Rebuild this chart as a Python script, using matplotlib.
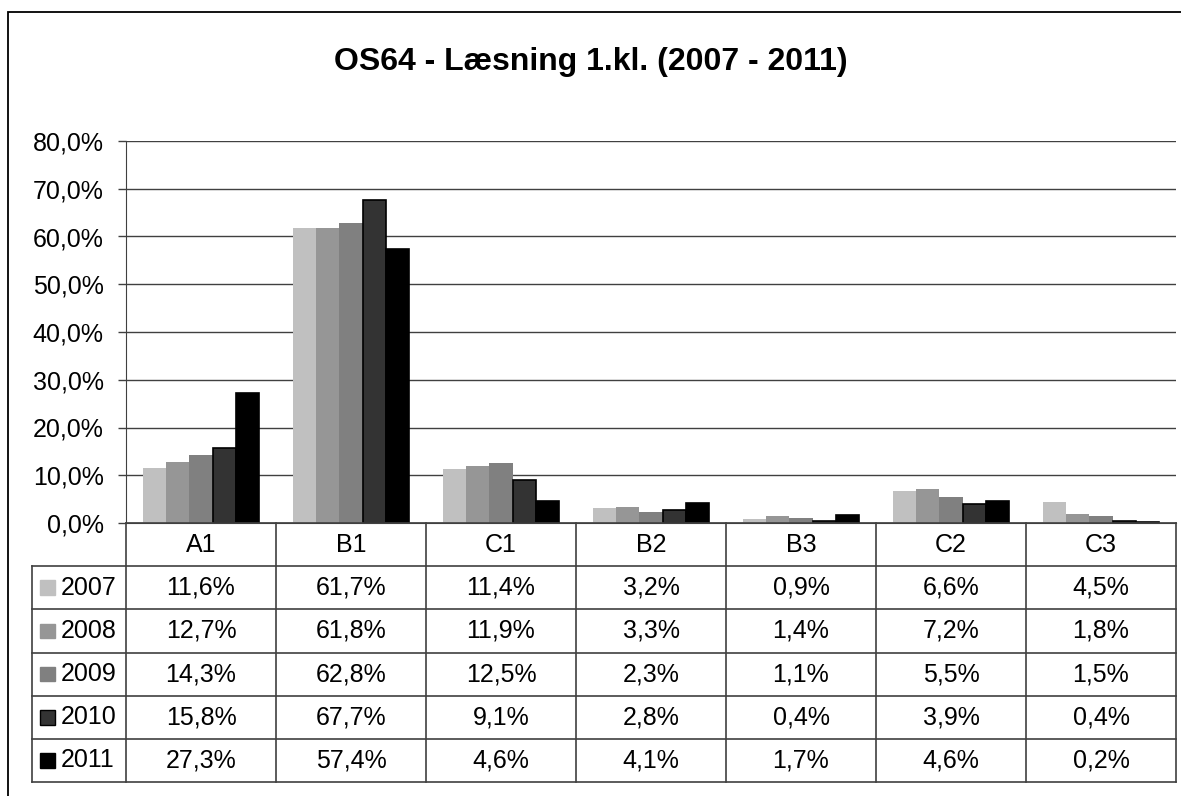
import matplotlib
matplotlib.use("Agg")
import matplotlib.pyplot as plt
from matplotlib.patches import Rectangle
from matplotlib.ticker import FuncFormatter, MultipleLocator
import numpy as np

plt.rcParams['font.family'] = ['Liberation Sans', 'DejaVu Sans']

title = "OS64 - Læsning 1.kl. (2007 - 2011)"
categories = ["A1", "B1", "C1", "B2", "B3", "C2", "C3"]
years = ["2007", "2008", "2009", "2010", "2011"]
v2007 = [11.6, 61.7, 11.4, 3.2, 0.9, 6.6, 4.5]
v2008 = [12.7, 61.8, 11.9, 3.3, 1.4, 7.2, 1.8]
v2009 = [14.3, 62.8, 12.5, 2.3, 1.1, 5.5, 1.5]
v2010 = [15.8, 67.7, 9.1, 2.8, 0.4, 3.9, 0.4]
v2011 = [27.3, 57.4, 4.6, 4.1, 1.7, 4.6, 0.2]
series = [v2007, v2008, v2009, v2010, v2011]
colors = ["#C0C0C0", "#969696", "#808080", "#333333", "#000000"]
edges = [None, None, None, "#000000", "#000000"]

W, H = 1181, 796
fig = plt.figure(figsize=(W / 100, H / 100), dpi=100)

def fx(px):
    return px / W

def fy(py):
    return 1 - py / H

FS = 18

# outer frame
fig.patches.append(Rectangle((fx(8), -0.05), 1.2, fy(12) + 0.05, transform=fig.transFigure,
                             fill=False, edgecolor="black", linewidth=1.3))

left, right, top, bottom = 126, 1176, 141, 523
ax = fig.add_axes([fx(left), fy(bottom), fx(right - left), (bottom - top) / H])
n_cat = len(categories)
n_ser = len(series)
w = 1 / (n_ser + 1.5)
x = np.arange(n_cat)
for j, (vals, c, e) in enumerate(zip(series, colors, edges)):
    ax.bar(x + (j - (n_ser - 1) / 2) * w, np.array(vals) / 100, width=w, color=c,
           edgecolor=e if e else c, linewidth=1.2 if e else 0, zorder=3)

ax.set_xlim(-0.5, n_cat - 0.5)
ax.set_ylim(0, 0.8)
ax.yaxis.set_major_locator(MultipleLocator(0.1))
ax.yaxis.set_major_formatter(FuncFormatter(lambda v, p: f"{v*100:.1f}%".replace(".", ",")))
ax.grid(axis="y", color="#404040", linewidth=1.0, zorder=0)
ax.set_xticks([])
for s in ["top", "right"]:
    ax.spines[s].set_visible(False)
ax.spines["left"].set_color("#404040")
ax.spines["bottom"].set_color("#404040")
ax.tick_params(axis="y", direction="out", length=6, width=1, color="#404040",
               labelsize=FS, pad=10)
fig.text(0.5, fy(62), title, ha="center", va="center", fontsize=23, fontweight="bold")

# data table
tb_bottom = 782
tax = fig.add_axes([fx(left), fy(tb_bottom), fx(right - left), (tb_bottom - bottom) / H])
tax.set_xlim(-0.5, n_cat - 0.5)
nrows = n_ser + 1
tax.set_ylim(nrows, 0)
tax.axis("off")
lc = "#404040"
legw = 94 / 150
xl = -0.5 - legw
kw = dict(color=lc, linewidth=1.2, clip_on=False)
# horizontal lines
tax.plot([-0.5, n_cat - 0.5], [0, 0], **kw)
for r in range(1, nrows + 1):
    tax.plot([xl, n_cat - 0.5], [r, r], **kw)
# vertical lines
for b in range(n_cat + 1):
    tax.plot([b - 0.5, b - 0.5], [0, nrows], **kw)
tax.plot([xl, xl], [1, nrows], **kw)
for i, cat in enumerate(categories):
    tax.text(i, 0.5, cat, ha="center", va="center", fontsize=FS)
for j, (vals, c, yr) in enumerate(zip(series, colors, years)):
    r = j + 1.5
    for i, v in enumerate(vals):
        tax.text(i, r, f"{v:.1f}%".replace(".", ","), ha="center", va="center", fontsize=FS)
    sq = 15 / 150
    tax.add_patch(Rectangle((xl + 8 / 150, r - 0.17), sq, 0.34, facecolor=c,
                            edgecolor="black" if j >= 3 else c, linewidth=1, clip_on=False))
    tax.text(xl + 29 / 150, r, yr, ha="left", va="center", fontsize=FS)

fig.savefig("out.png", dpi=100)
